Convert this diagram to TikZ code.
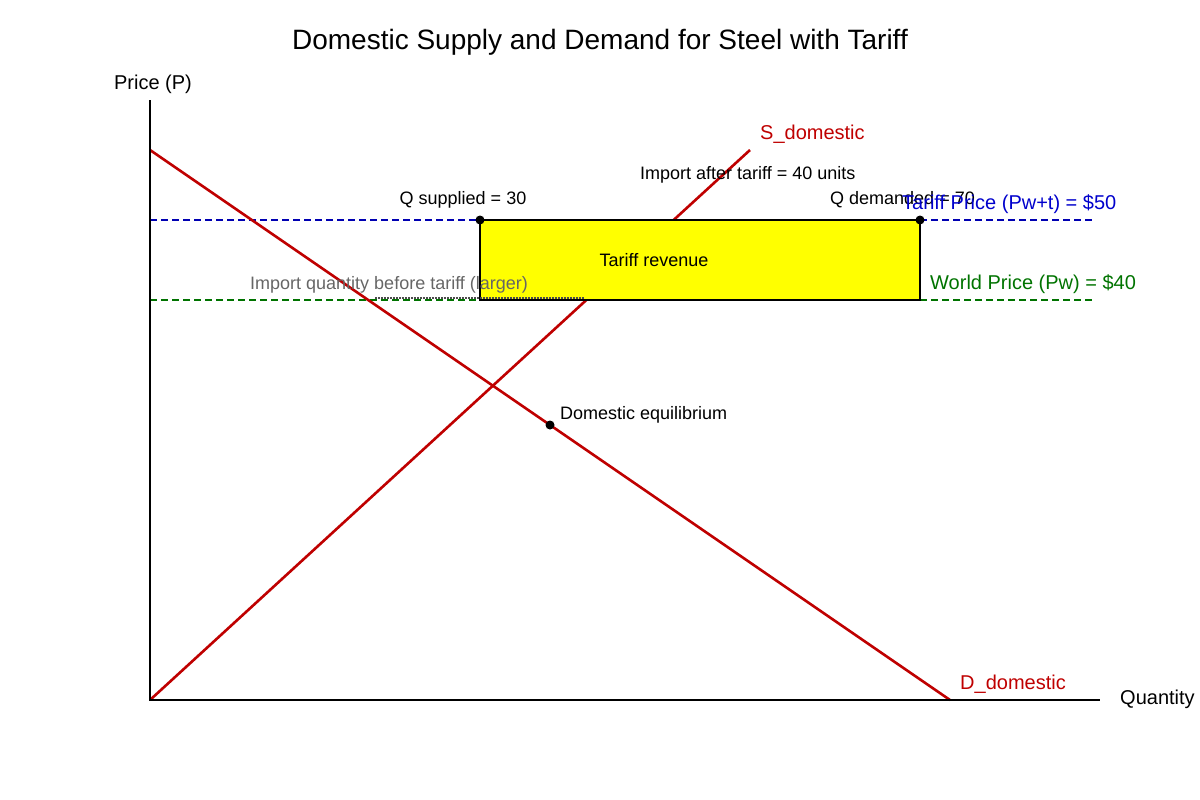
\documentclass[tikz,border=0pt]{standalone}
\usepackage{fontspec}
\setmainfont{Liberation Sans}
\definecolor{pureyellow}{RGB}{255,255,0}
\begin{document}
\begin{tikzpicture}[x=1pt,y=-1pt,
 lbl/.style={inner sep=0pt,font=\fontsize{18}{20}\selectfont},
 big/.style={inner sep=0pt,font=\fontsize{20}{22}\selectfont},
 dot/.style={circle,fill=black,inner sep=0pt,minimum size=9pt},
 curve/.style={draw=red!75!black,line width=2.6pt}]
\useasboundingbox (0,0) rectangle (1200,800);
\node[inner sep=0pt,font=\fontsize{28}{30}\selectfont] (title) at (600,42) {Domestic Supply and Demand for Steel with Tariff};
% price lines
\coordinate (t0) at (150,220); \coordinate (t1) at (1095,220);
\coordinate (w0) at (150,300); \coordinate (w1) at (1095,300);
\draw[blue!70!black,line width=1.8pt,dash pattern=on 7pt off 4pt] (t0) -- (t1);
\draw[green!45!black,line width=1.8pt,dash pattern=on 7pt off 4pt] (w0) -- (w1);
% curves
\coordinate (s0) at (150,700); \coordinate (s1) at (750,150);
\coordinate (d0) at (150,150); \coordinate (d1) at (950,700);
\draw[curve] (s0) -- (s1);
\draw[curve] (d0) -- (d1);
\node[draw=black,line width=2pt,fill=pureyellow,minimum width=440pt,minimum height=80pt,inner sep=0pt] (rev) at (700,260) {};
\node[lbl] at (654,260) {Tariff revenue};
\coordinate (g0) at (375,298); \coordinate (g1) at (585,298);
\draw[black!70,line width=1.8pt,dash pattern=on 1.5pt off 1.5pt] (g0) -- (g1);
% axes
\coordinate (o) at (150,700); \coordinate (ytop) at (150,100); \coordinate (xend) at (1100,700);
\draw[line width=2pt] (ytop) -- (o) -- (xend);
\node[big] (py) at (153,84) {Price (P)};
\node[big,anchor=west] (qx) at (1120,699) {Quantity};
% dots
\node[dot] (qs) at (480,220) {};
\node[dot] (qd) at (920,220) {};
\node[dot] (eq) at (550,425) {};
% labels
\node[lbl] at (463,200) {Q supplied = 30};
\node[lbl,anchor=west] at (830,200) {Q demanded = 70};
\node[lbl,anchor=west] at (640,175) {Import after tariff = 40 units};
\node[lbl,anchor=west] at (560,415) {Domestic equilibrium};
\node[lbl,anchor=west,text=black!60] at (250,285) {Import quantity before tariff (larger)};
\node[big,anchor=west,text=blue!80!black] at (902,204) {Tariff Price (Pw+t) = \$50};
\node[big,anchor=west,text=green!45!black] at (930,284) {World Price (Pw) = \$40};
\node[big,anchor=west,text=red!75!black] at (760,134) {S\_domestic};
\node[big,anchor=west,text=red!75!black] at (960,684) {D\_domestic};
\end{tikzpicture}
\end{document}
